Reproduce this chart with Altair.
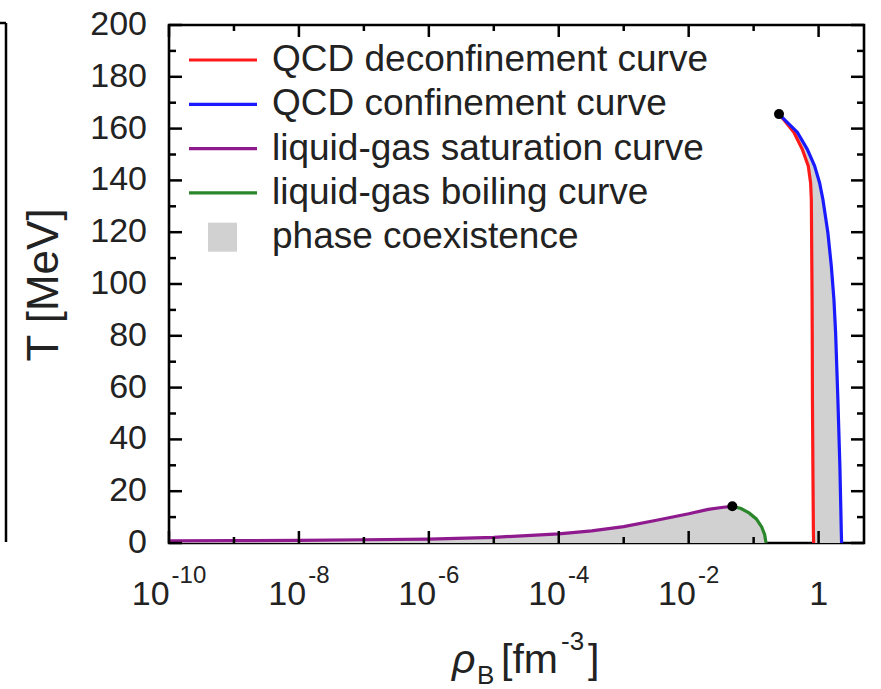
import altair as alt
import pandas as pd

# ---------------- data ----------------
purple_rho = [1e-10, 1e-9, 1e-8, 1e-7, 1e-6, 1e-5, 1e-4, 3.2e-4, 1e-3, 3.2e-3, 1e-2, 2e-2, 3.2e-2, 0.047]
purple_T = [0.8, 0.9, 1.05, 1.25, 1.5, 2.2, 3.5, 4.7, 6.3, 8.8, 11.3, 13.0, 13.7, 14.2]

green_rho = [0.047, 0.064, 0.085, 0.11, 0.133, 0.148, 0.155]
green_T = [14.2, 13.3, 11.6, 9.3, 6.2, 3.2, 0.0]

qcd_T = [165.6, 163.0, 158.6, 152.0, 145.6, 139.1, 132.7, 119.8, 106.9, 94.0, 81.1, 55.3, 29.5, 3.8, 0.0]
red_rho = [0.246, 0.300, 0.416, 0.561, 0.693, 0.753, 0.773, 0.780, 0.787, 0.794, 0.798, 0.804, 0.817, 0.832, 0.838]
blue_rho = [0.246, 0.312, 0.470, 0.670, 0.867, 1.035, 1.164, 1.390, 1.570, 1.722, 1.828, 1.982, 2.128, 2.239, 2.259]

crit_rho = [0.047, 0.246]
crit_T = [14.2, 165.6]

x_major = [1e-10, 1e-8, 1e-6, 1e-4, 1e-2, 1.0]
x_minor = [1e-9, 1e-7, 1e-5, 1e-3, 1e-1]
x_label_base = ["10", "10", "10", "10", "10", "1"]
x_label_exp = ["-10", "-8", "-6", "-4", "-2", ""]

y_major = [0, 20, 40, 60, 80, 100, 120, 140, 160, 180, 200]
y_minor = [10, 30, 50, 70, 90, 110, 130, 150, 170, 190]
y_labels = ["0", "20", "40", "60", "80", "100", "120", "140", "160", "180", "200"]

legend_labels = ["QCD deconfinement curve", "QCD confinement curve",
                 "liquid-gas saturation curve", "liquid-gas boiling curve",
                 "phase coexistence"]

x_title_parts = ["\u03c1", "B", "[fm", "-3", "]"]
y_title = "T [MeV]"

# ---------------- style ----------------
RED = "#ff1a1a"
BLUE = "#1a1aff"
PURPLE = "#8e1a8e"
GREEN = "#2a862a"
GRAY = "#d1d1d1"
legend_colors = [RED, BLUE, PURPLE, GREEN, GRAY]
FONT = "Liberation Sans"
W, H = 695, 518
PL, PT = 169, 25
XMIN, XMAX = 1e-10, 5.0
YMIN, YMAX = 0.0, 200.0

xs = alt.Scale(type="log", domain=[XMIN, XMAX], nice=False)
ys = alt.Scale(domain=[YMIN, YMAX], nice=False, zero=False)


def X(f):
    return alt.X(f, scale=xs, axis=None)


def Y(f):
    return alt.Y(f, scale=ys, axis=None)


layers = []

# coexistence areas
lg_df = pd.DataFrame({"rho": purple_rho + green_rho[1:], "T": purple_T + green_T[1:]})
lg_df["T0"] = 0.0
layers.append(alt.Chart(lg_df).mark_area(color=GRAY, opacity=1).encode(
    x=X("rho:Q"), y=Y("T:Q"), y2="T0:Q"))

qcd_df = pd.DataFrame({"T": qcd_T, "red": red_rho, "blue": blue_rho, "i": list(range(len(qcd_T)))})
layers.append(alt.Chart(qcd_df).mark_area(color=GRAY, opacity=1, orient="horizontal").encode(
    y=Y("T:Q"), x=X("red:Q"), x2="blue:Q"))

# curves
layers.append(alt.Chart(pd.DataFrame({"rho": purple_rho, "T": purple_T})).mark_line(
    color=PURPLE, strokeWidth=3.2).encode(x=X("rho:Q"), y=Y("T:Q")))
layers.append(alt.Chart(pd.DataFrame({"rho": green_rho, "T": green_T, "i": list(range(len(green_T)))})).mark_line(
    color=GREEN, strokeWidth=3.2).encode(x=X("rho:Q"), y=Y("T:Q"), order="i:Q"))
layers.append(alt.Chart(qcd_df).mark_line(color=RED, strokeWidth=3.2).encode(
    x=X("red:Q"), y=Y("T:Q"), order="i:Q"))
layers.append(alt.Chart(qcd_df).mark_line(color=BLUE, strokeWidth=3.2).encode(
    x=X("blue:Q"), y=Y("T:Q"), order="i:Q"))

# critical points
layers.append(alt.Chart(pd.DataFrame({"rho": crit_rho, "T": crit_T})).mark_circle(
    color="black", size=100, opacity=1).encode(x=X("rho:Q"), y=Y("T:Q")))


# inward ticks (tick lengths in pixels converted to data units)
def ylen(px):
    return (YMAX - YMIN) * px / H


def xfac(px):
    return (XMAX / XMIN) ** (px / W)


def xticks(vals, length):
    d = ylen(length)
    df = pd.DataFrame({"v": vals, "b0": [YMIN] * len(vals), "b1": [YMIN + d] * len(vals),
                       "t0": [YMAX] * len(vals), "t1": [YMAX - d] * len(vals)})
    b = alt.Chart(df).mark_rule(color="black", strokeWidth=2.5).encode(
        x=X("v:Q"), y=Y("b0:Q"), y2="b1:Q")
    t = alt.Chart(df).mark_rule(color="black", strokeWidth=2.5).encode(
        x=X("v:Q"), y=Y("t0:Q"), y2="t1:Q")
    return [b, t]


def yticks(vals, length):
    f = xfac(length)
    df = pd.DataFrame({"v": vals, "l0": [XMIN] * len(vals), "l1": [XMIN * f] * len(vals),
                       "r0": [XMAX] * len(vals), "r1": [XMAX / f] * len(vals)})
    l = alt.Chart(df).mark_rule(color="black", strokeWidth=2.5).encode(
        y=Y("v:Q"), x=X("l0:Q"), x2="l1:Q")
    r = alt.Chart(df).mark_rule(color="black", strokeWidth=2.5).encode(
        y=Y("v:Q"), x=X("r0:Q"), x2="r1:Q")
    return [l, r]


layers += xticks(x_major, 12) + xticks(x_minor, 6)
layers += yticks(y_major, 13) + yticks(y_minor, 7)

# y tick labels
layers.append(alt.Chart(pd.DataFrame({"v": y_major, "t": y_labels})).mark_text(
    align="right", baseline="middle", fontSize=34, font=FONT, color="#222").encode(
    y=Y("v:Q"), x=alt.value(-22), text="t:N"))

# x tick labels (base + superscript exponent)
FS_B, FS_E = 34, 24
CW = {"-": 0.333, "0": 0.556, "1": 0.556, "2": 0.556, "4": 0.556, "6": 0.556, "8": 0.556}
for v, b, e in zip(x_major, x_label_base, x_label_exp):
    df = pd.DataFrame({"v": [v], "b": [b], "e": [e]})
    if e == "":
        layers.append(alt.Chart(df).mark_text(align="center", baseline="alphabetic", fontSize=FS_B,
                                              font=FONT, color="#222").encode(
            x=X("v:Q"), y=alt.value(580), text="b:N"))
        continue
    wb = sum(CW[c] for c in b) * FS_B
    we = sum(CW[c] for c in e) * FS_E
    total = wb + 2 + we
    layers.append(alt.Chart(df).mark_text(align="left", baseline="alphabetic", fontSize=FS_B,
                                          font=FONT, color="#222", dx=-total / 2).encode(
        x=X("v:Q"), y=alt.value(580), text="b:N"))
    layers.append(alt.Chart(df).mark_text(align="left", baseline="alphabetic", fontSize=FS_E,
                                          font=FONT, color="#222", dx=-total / 2 + wb + 2).encode(
        x=X("v:Q"), y=alt.value(558), text="e:N"))

# axis titles
layers.append(alt.Chart(pd.DataFrame({"t": [y_title]})).mark_text(
    angle=270, align="center", baseline="middle", fontSize=44, font=FONT, color="#222").encode(
    x=alt.value(45 - PL), y=alt.value(285 - PT), text="t:N"))

xt_specs = [  # (left x, baseline y, font size, italic)
    (452, 673, 41, True),
    (477, 684, 26, False),
    (501, 673, 41, False),
    (561, 650, 26, False),
    (588, 673, 41, False),
]
for txt, (lx, by, fs, it) in zip(x_title_parts, xt_specs):
    kw = dict(align="left", baseline="alphabetic", fontSize=fs, font=FONT, color="#222")
    if it:
        kw["fontStyle"] = "italic"
    layers.append(alt.Chart(pd.DataFrame({"t": [txt]})).mark_text(**kw).encode(
        x=alt.value(lx - PL), y=alt.value(by - PT), text="t:N"))

# legend
for i, (lab, col) in enumerate(zip(legend_labels, legend_colors)):
    ry = 60 + 44.3 * i - PT
    df = pd.DataFrame({"t": [lab]})
    if i < 4:
        layers.append(alt.Chart(df).mark_rule(color=col, strokeWidth=3.2).encode(
            x=alt.value(189 - PL), x2=alt.value(257 - PL), y=alt.value(ry)))
    else:
        layers.append(alt.Chart(df).mark_rect(color=col, opacity=1).encode(
            x=alt.value(208 - PL), x2=alt.value(237 - PL), y=alt.value(ry - 14.5), y2=alt.value(ry + 14.5)))
    layers.append(alt.Chart(df).mark_text(align="left", baseline="middle", fontSize=37,
                                          font=FONT, color="#222").encode(
        x=alt.value(272 - PL), y=alt.value(ry), text="t:N"))

# clipped edge of the neighbouring panel at the far left
layers.append(alt.Chart(pd.DataFrame({"t": [""]})).mark_rule(color="black", strokeWidth=2.5).encode(
    x=alt.value(6 - PL), y=alt.value(23 - PT), y2=alt.value(542 - PT)))
layers.append(alt.Chart(pd.DataFrame({"t": [""]})).mark_rule(color="black", strokeWidth=2.5).encode(
    x=alt.value(0 - PL), x2=alt.value(6 - PL), y=alt.value(23 - PT)))

chart = alt.layer(*layers).properties(
    width=W, height=H,
    padding={"left": PL, "top": PT, "right": 881 - PL - W, "bottom": 689 - PT - H},
    autosize=alt.AutoSizeParams(type="none"),
    background="white",
).configure_view(stroke="black", strokeWidth=2.6)

chart.save("out.html", embed_options={"renderer": "svg", "actions": False})
